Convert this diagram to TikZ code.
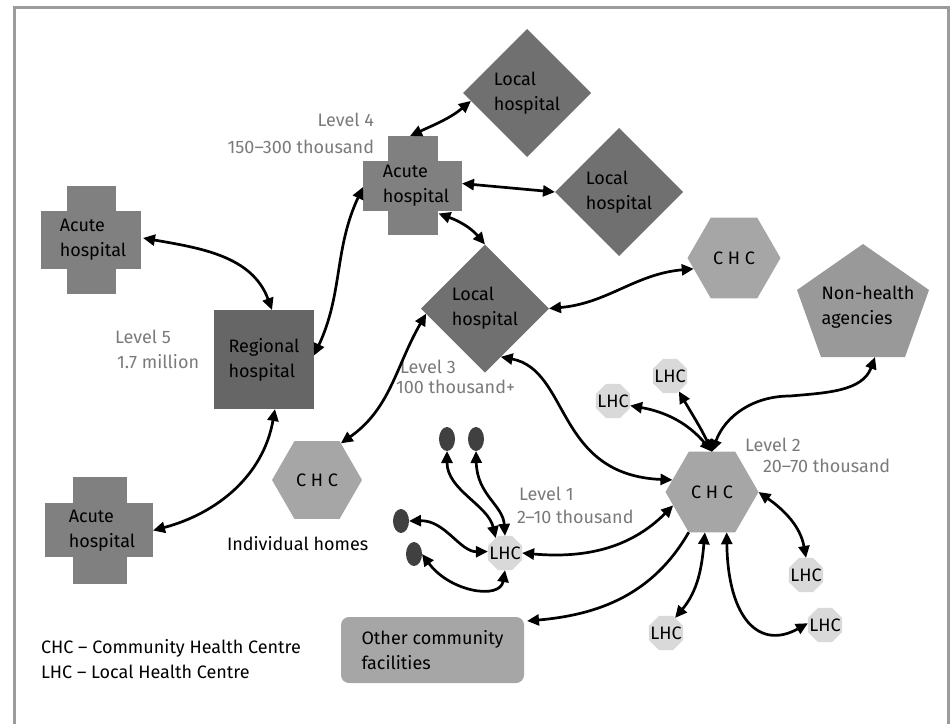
\documentclass[tikz,border=0pt]{standalone}
\usepackage{fontspec}
\setmainfont{Fira Sans}
\usetikzlibrary{arrows.meta,shapes.geometric,calc}
\definecolor{framegray}{HTML}{9C9C9C}
\definecolor{acutefill}{HTML}{808080}
\definecolor{localfill}{HTML}{707070}
\definecolor{regfill}{HTML}{666666}
\definecolor{chcfill}{HTML}{A6A6A6}
\definecolor{nhfill}{HTML}{999999}
\definecolor{lhcfill}{HTML}{D9D9D9}
\definecolor{dotfill}{HTML}{404040}
\definecolor{levelgray}{HTML}{7A7A7A}
\begin{document}
\begin{tikzpicture}[x=1pt,y=-1pt,
  every node/.style={font=\fontsize{18}{25}\selectfont, inner sep=0pt, outer sep=0pt},
  conn/.style={line width=2.7pt, {Triangle[length=12pt,width=11pt]}-{Triangle[length=12pt,width=11pt]}},
  oneway/.style={line width=2.7pt, -{Triangle[length=12pt,width=11pt]}},
  lvl/.style={text=levelgray, anchor=base west},
  crossbox/.style={align=left},
  localbox/.style={shape=diamond, fill=localfill, minimum width=128pt, minimum height=128pt, aspect=1, align=left},
  chcbox/.style={shape=regular polygon, regular polygon sides=6, fill=chcfill, minimum size=#1, label={center:C H C}},
  lhcbox/.style={shape=regular polygon, regular polygon sides=8, fill=lhcfill, minimum size=37pt, label={center:LHC}},
  dotbox/.style={shape=ellipse, fill=dotfill, minimum width=16pt, minimum height=24pt}
]
\useasboundingbox (0,0) rectangle (952,724);
% frame
\draw[framegray, line width=3pt] (14,724) -- (14,7) -- (948,7) -- (948,724);

% crosses
\fill[acutefill] (41,211) rectangle (141,269);
\fill[acutefill] (67,186) rectangle (116,294);
\node[crossbox, minimum width=100pt, minimum height=108pt] (ac1) at (93,240) {Acute\\hospital};
\fill[acutefill] (45,503) rectangle (153,557);
\fill[acutefill] (73,477) rectangle (127,584);
\node[crossbox, minimum width=108pt, minimum height=107pt] (ac2) at (102,530.5) {Acute\\hospital};
\fill[acutefill] (363,161) rectangle (462,211);
\fill[acutefill] (388,136) rectangle (438,235);
\node[crossbox, minimum width=99pt, minimum height=99pt] (ac3) at (416,185.5) {Acute\\hospital};

% local hospitals
\node[localbox] (lh1) at (527,93) {Local\\hospital};
\node[localbox] (lh2) at (619,192) {Local\\hospital};
\node[localbox] (lh3) at (485,308.5) {Local\\hospital};

% regional
\node[fill=regfill, minimum width=100pt, minimum height=99pt, align=left] (reg) at (264,359.5) {Regional\\hospital};

% CHCs
\node[chcbox=93pt] (chc1) at (734,258) {};
\node[chcbox=90pt] (chc2) at (317,480) {};
\node[chcbox=93pt] (chc3) at (712,492) {};

% non-health pentagon
\fill[nhfill] (863,244) -- (929,290) -- (905,357) -- (821,357) -- (797,290) -- cycle;
\node[minimum width=132pt, minimum height=113pt] (nh) at (863,300.5) {};
\node[align=left] (nhtxt) at (868,307) {Non-health\\agencies};

% LHCs
\node[lhcbox] (lhc1) at (505,553) {};
\node[lhcbox] (lhc2) at (670,376) {};
\node[lhcbox] (lhc3) at (613,401) {};
\node[lhcbox] (lhc4) at (806,575) {};
\node[lhcbox] (lhc5) at (666,633) {};
\node[lhcbox] (lhc6) at (825,625) {};

% homes
\node[dotbox] (d1) at (447,439) {};
\node[dotbox] (d2) at (476,439) {};
\node[dotbox] (d3) at (401,521) {};
\node[dotbox] (d4) at (414,554) {};

% other community facilities
\node[fill=chcfill, rounded corners=8pt, minimum width=183pt, minimum height=66pt, align=left] (ocf) at (432.5,650) {Other community\\facilities};

% labels
\node[lvl, anchor=base east] (l4a) at (374,126) {Level 4};
\node[lvl, anchor=base east] (l4b) at (374,153) {150–300 thousand};
\node[lvl] (l5a) at (115,343) {Level 5};
\node[lvl] (l5b) at (117,368) {1.7 million};
\node[lvl] (l3a) at (400,373) {Level 3};
\node[lvl] (l3b) at (396,393) {100 thousand+};
\node[lvl] (l1a) at (519,500) {Level 1};
\node[lvl] (l1b) at (517,523) {2–10 thousand};
\node[lvl] (l2a) at (745,451) {Level 2};
\node[lvl] (l2b) at (763,472) {20–70 thousand};
\node[anchor=base west] (ih) at (227,550) {Individual homes};
\node[anchor=base west] (lg1) at (41,653) {CHC – Community Health Centre};
\node[anchor=base west] (lg2) at (41,678) {LHC – Local Health Centre};

% connectors
\draw[conn] ([yshift=2pt]ac1.east) to[out=-10,in=110] ([xshift=8pt]reg.north);
\draw[conn] ([xshift=11pt]reg.south) to[out=-100,in=15] ([xshift=-3pt]ac2.east);
\draw[conn] ([yshift=4pt]reg.east) to[out=65,in=-115] ([xshift=-3.5pt,yshift=-1.5pt]ac3.west);
\draw[conn] ($(ac3.north)+(-6,0)$) to[out=25,in=-140] (lh1.188);
\draw[conn] ([xshift=-3.5pt,yshift=2pt]ac3.east) -- (lh2.west);
\draw[conn] ($(ac3.center)+(22.5,28)$) to[out=-20,in=130] (lh3.north);
\draw[conn] (lh3.east) to[out=5,in=185] (chc1.195);
\draw[conn] (lh3.185) to[out=-120,in=35] (chc2.57);
\draw[conn] (lh3.-72) .. controls (570,370) and (555,475) .. (chc3.163);
\draw[conn] (lhc1.east) to[out=-5,in=-135] (chc3.199);
\draw[conn] (lhc1.122) .. controls (488,505) and (447,490) .. (d1.south);
\draw[conn] (lhc1.north) .. controls (503,505) and (477,495) .. (d2.south);
\draw[conn] (lhc1.175) .. controls (460,552) and (445,520) .. (d3.east);
\draw[conn] (lhc1.south) .. controls (500,600) and (450,592) .. (d4.east);
\draw[conn] (chc3.north) to[out=130,in=-10] (lhc3.-15);
\draw[conn] (chc3.north) to[out=115,in=-60] (lhc2.-60);
\draw[conn] (chc3.north) to[out=70,in=180] (790,396) to[out=5,in=-110] ([xshift=12pt]nh.south);
\draw[conn] (chc3.east) to[out=-35,in=100] (lhc4.north);
\draw[conn] (chc3.260) to[out=-95,in=50] (lhc5.59);
\draw[conn] (chc3.290) .. controls (728,620) and (760,650) .. (lhc6.174);
\draw[oneway] (chc3.240) to[out=-120,in=5] ($(ocf.north east)+(3,4)$);
\end{tikzpicture}
\end{document}
